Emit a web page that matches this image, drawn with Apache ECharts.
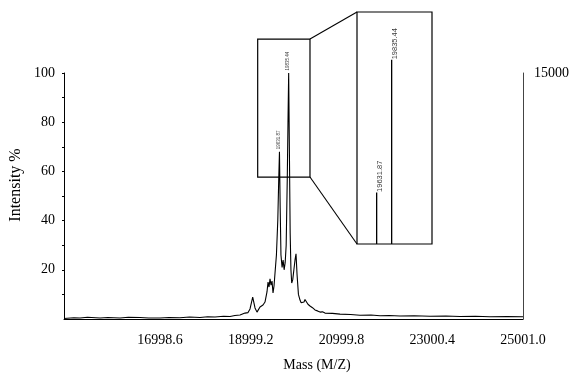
<!DOCTYPE html>
<html>
<head>
<meta charset="utf-8">
<script src="https://cdn.jsdelivr.net/npm/echarts@6/dist/echarts.min.js"></script>
<style>html,body{margin:0;padding:0;background:#fff}#c{width:572px;height:376px}</style>
</head>
<body>
<div id="c"></div>
<script>
// Main spectrum (mass, intensity %)
const massMain = [14882,15100,15235,15400,15676,15850,16117,16300,16557,16750,16998,17200,17439,17650,17880,18050,18211,18400,18542,18650,18762,18872,18939,18983,19042,19093,19137,19170,19203,19240,19269,19313,19357,19380,19402,19424,19446,19468,19490,19512,19534,19565,19595,19615,19632,19648,19665,19690,19712,19735,19758,19780,19805,19820,19835,19850,19868,19885,19902,19925,19950,19975,19997,20020,20050,20085,20110,20130,20150,20173,20195,20217,20260,20305,20360,20415,20470,20526,20580,20636,20800,20967,21200,21407,21650,21848,22050,22289,22600,22951,23300,23612,23950,24273,24650,25001];
const intensityMain = [0.2,0.5,0.4,0.7,0.4,0.6,0.4,0.7,0.6,0.4,0.4,0.6,0.5,0.8,0.6,0.9,0.8,1.1,1.0,1.4,1.6,2.4,2.6,4.1,8.9,4.5,2.8,3.6,4.9,4.2,5.7,6.9,11,15,13,16.3,13.8,15.4,10.6,13.4,18.7,26,40,56,68,45,26,21,24,20,23,30,58,80,100,70,35,20,14.6,16,20,24,26.5,18,10,7.7,6.6,7.2,6.4,6.9,7.9,7.7,6,5.3,4.6,3.7,3.3,2.8,2.9,2.4,2.3,2.0,1.8,1.5,1.6,1.3,1.4,1.2,1.3,1.1,1.2,1.0,1.1,0.9,1.0,0.9];
// Labelled peaks
const peakMass = [19631.87, 19835.44];
const peakMainIntensity = [68, 100];
const peakLabels = ['19631.87', '19835.44'];
// Inset spectrum (relative intensity)
const peakInsetIntensity = [28, 100];
// Tick labels
const xTicks = [16998.6, 18999.2, 20999.8, 23000.4, 25001.0];
const yTicks = [20, 40, 60, 80, 100];
const rightTicks = [15000];
// Zoom window (main chart data coords) and inset ranges
const zoomMass = [19152, 20305];
const zoomIntensity = [57.7, 113.8];
const insetMass = [19365, 20383];
const insetIntensityMax = 126;

const serif = 'Liberation Serif';
const sans = 'Liberation Sans';

const chart = echarts.init(document.getElementById('c'), null, {renderer: 'canvas'});

const mainData = massMain.map((m, i) => [m, intensityMain[i]]);
const insetSticks = [];
peakMass.forEach((m, i) => {
  if (i > 0) insetSticks.push(null);
  insetSticks.push([m, 0], [m, peakInsetIntensity[i]]);
});

chart.setOption({
  animation: false,
  backgroundColor: '#fff',
  grid: [
    {left: 64, top: 73, width: 460, height: 246},
    {left: 357, top: 12, width: 75, height: 232, show: true, borderColor: '#000', borderWidth: 1.2, backgroundColor: '#fff', z: 5}
  ],
  xAxis: [
    {
      type: 'value', gridIndex: 0, min: 14882, max: 25001,
      axisLine: {show: true, onZero: false, lineStyle: {color: '#000', width: 1}},
      axisTick: {show: false},
      splitLine: {show: false},
      axisLabel: {
        customValues: xTicks, color: '#000', fontFamily: serif, fontSize: 14, margin: 14,
        formatter: v => v.toFixed(1)
      }
    },
    {
      type: 'value', gridIndex: 1, min: insetMass[0], max: insetMass[1],
      axisLine: {show: false}, axisTick: {show: false}, axisLabel: {show: false}, splitLine: {show: false}
    }
  ],
  yAxis: [
    {
      type: 'value', gridIndex: 0, min: 0, max: 100,
      axisLine: {show: true, lineStyle: {color: '#000', width: 1}},
      axisTick: {show: true, customValues: [10,20,30,40,50,60,70,80,90,100], length: 2, lineStyle: {color: '#000'}},
      splitLine: {show: false},
      axisLabel: {customValues: yTicks, color: '#000', fontFamily: serif, fontSize: 14, margin: 9}
    },
    {
      type: 'value', gridIndex: 0, position: 'right', min: 0, max: 15000,
      axisLine: {show: true, lineStyle: {color: '#444', width: 1}},
      axisTick: {show: false},
      splitLine: {show: false},
      axisLabel: {customValues: rightTicks, color: '#000', fontFamily: serif, fontSize: 14, margin: 11,
        formatter: v => String(v)}
    },
    {
      type: 'value', gridIndex: 1, min: 0, max: insetIntensityMax,
      axisLine: {show: false}, axisTick: {show: false}, axisLabel: {show: false}, splitLine: {show: false}
    }
  ],
  series: [
    {
      type: 'line', xAxisIndex: 0, yAxisIndex: 0, data: mainData,
      symbol: 'none', lineStyle: {color: '#000', width: 1.1}, z: 3
    },
    {
      type: 'scatter', xAxisIndex: 0, yAxisIndex: 0,
      data: peakMass.map((m, i) => ({value: [m, peakMainIntensity[i]], label: {formatter: peakLabels[i]}})),
      symbolSize: 1, itemStyle: {color: 'rgba(0,0,0,0)'},
      label: {show: true, position: [0, -2], rotate: 90, align: 'left', verticalAlign: 'middle',
        fontFamily: sans, fontSize: 4.5, color: '#000'},
      z: 4
    },
    {
      type: 'line', xAxisIndex: 1, yAxisIndex: 2, data: insetSticks, connectNulls: false,
      symbol: 'none', lineStyle: {color: '#000', width: 1.3}, z: 6
    },
    {
      type: 'scatter', xAxisIndex: 1, yAxisIndex: 2,
      data: peakMass.map((m, i) => ({value: [m, peakInsetIntensity[i]], label: {formatter: peakLabels[i]}})),
      symbolSize: 1, itemStyle: {color: 'rgba(0,0,0,0)'},
      label: {show: true, position: [4, 0], rotate: 90, align: 'left', verticalAlign: 'middle',
        fontFamily: sans, fontSize: 7.5, color: '#000'},
      z: 7
    }
  ]
});

// Zoom box and connecting lines, computed from the axes
const p = (x, y) => chart.convertToPixel({xAxisIndex: 0, yAxisIndex: 0}, [x, y]);
const q = (x, y) => chart.convertToPixel({xAxisIndex: 1, yAxisIndex: 2}, [x, y]);
const tl = p(zoomMass[0], zoomIntensity[1]);
const br = p(zoomMass[1], zoomIntensity[0]);
const itl = q(insetMass[0], insetIntensityMax);
const ibl = q(insetMass[0], 0);

chart.setOption({
  graphic: [
    {type: 'rect', shape: {x: tl[0], y: tl[1], width: br[0] - tl[0], height: br[1] - tl[1]},
      style: {fill: 'none', stroke: '#000', lineWidth: 1.2}, z: 10},
    {type: 'line', shape: {x1: br[0], y1: tl[1], x2: itl[0], y2: itl[1]},
      style: {stroke: '#000', lineWidth: 1.1}, z: 10},
    {type: 'line', shape: {x1: br[0], y1: br[1], x2: ibl[0], y2: ibl[1]},
      style: {stroke: '#000', lineWidth: 1.1}, z: 10},
    {type: 'text', x: 16, y: 185, rotation: Math.PI / 2,
      style: {text: 'Intensity %', fontFamily: serif, fontSize: 16, fill: '#000', align: 'center', verticalAlign: 'middle'}},
    {type: 'text', x: 317, y: 365,
      style: {text: 'Mass (M/Z)', fontFamily: serif, fontSize: 14, fill: '#000', align: 'center', verticalAlign: 'middle'}}
  ]
});
</script>
</body>
</html>
